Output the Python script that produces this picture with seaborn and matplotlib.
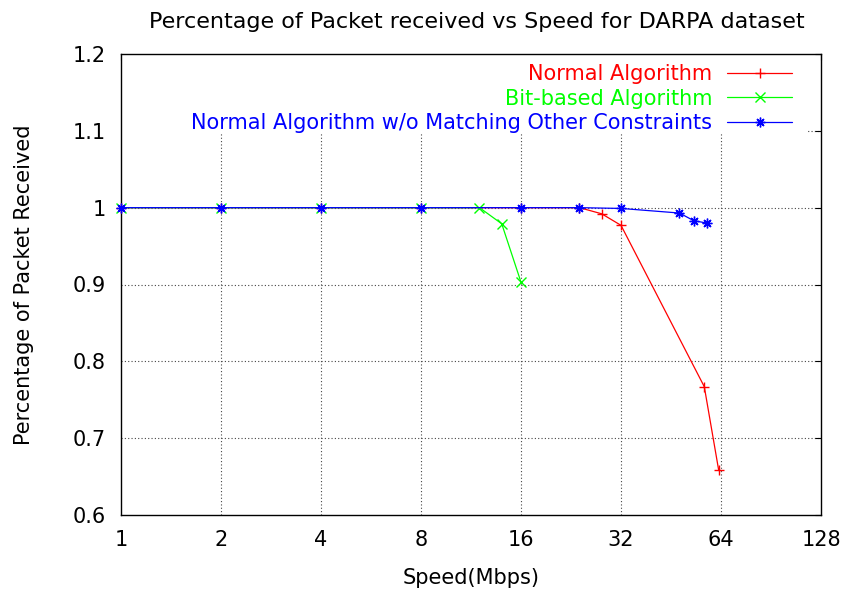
import matplotlib
matplotlib.use("Agg")
import matplotlib.pyplot as plt
from matplotlib.patches import Rectangle
from matplotlib.ticker import FixedLocator, FixedFormatter, NullLocator
import seaborn as sns
import pandas as pd

# ---- data ----
normal_x = [1, 2, 4, 8, 16, 24, 28, 32, 57, 63]
normal_y = [1.0, 1.0, 1.0, 1.0, 1.0, 1.0, 0.992, 0.977, 0.767, 0.658]

bit_x = [1, 2, 4, 8, 12, 14, 16]
bit_y = [1.0, 1.0, 1.0, 1.0, 1.0, 0.979, 0.903]

nomatch_x = [1, 2, 4, 8, 16, 24, 32, 48, 53, 58]
nomatch_y = [1.0, 1.0, 1.0, 1.0, 1.0, 1.0, 0.999, 0.993, 0.983, 0.980]

labels = ["Normal Algorithm", "Bit-based Algorithm",
          "Normal Algorithm w/o Matching Other Constraints"]
x_ticks = [1, 2, 4, 8, 16, 32, 64, 128]
x_tick_labels = ["1", "2", "4", "8", "16", "32", "64", "128"]
y_ticks = [0.6, 0.7, 0.8, 0.9, 1.0, 1.1, 1.2]
y_tick_labels = ["0.6", "0.7", "0.8", "0.9", "1", "1.1", "1.2"]

sns.set_style("white")
plt.rcParams["font.family"] = ["DejaVu Sans"]
plt.rcParams["text.color"] = "black"
plt.rcParams["axes.labelcolor"] = "black"
FS = 15

fig = plt.figure(figsize=(8.47, 5.94), dpi=100)
ax = fig.add_axes([121 / 847, 79 / 594, 700 / 847, 461 / 594])

series = [
    (normal_x, normal_y, "#ff0000", "+"),
    (bit_x, bit_y, "#00ff00", "x"),
    (nomatch_x, nomatch_y, "#0000ff", (8, 2, 0)),
]
for (xs, ys, col, mk), lab in zip(series, labels):
    df = pd.DataFrame({"x": xs, "y": ys})
    sns.lineplot(data=df, x="x", y="y", ax=ax, color=col, marker=mk,
                 markersize=7, markeredgecolor=col, markerfacecolor=col,
                 markeredgewidth=1.0, linewidth=0.9, label=lab, zorder=3,
                 clip_on=False)

ax.set_xscale("log", base=2)
ax.set_xlim(1, 128)
ax.set_ylim(0.6, 1.2)
ax.xaxis.set_major_locator(FixedLocator(x_ticks))
ax.xaxis.set_major_formatter(FixedFormatter(x_tick_labels))
ax.xaxis.set_minor_locator(NullLocator())
ax.yaxis.set_major_locator(FixedLocator(y_ticks))
ax.yaxis.set_major_formatter(FixedFormatter(y_tick_labels))

# grid (dotted), drawn below data
for xv in x_ticks[1:-1]:
    ax.axvline(xv, color="#444444", lw=0.8, ls=(0, (1, 2)), zorder=0.5)
for yv in y_ticks[1:-1]:
    ax.axhline(yv, color="#444444", lw=0.8, ls=(0, (1, 2)), zorder=0.5)
# key area blanks the grid
ax.add_patch(Rectangle((0, 0.826), 0.978, 0.174, transform=ax.transAxes,
                       facecolor="white", edgecolor="none", zorder=0.8))

for s in ax.spines.values():
    s.set_visible(True)
    s.set_color("black")
    s.set_linewidth(1.0)

ax.tick_params(axis="both", which="major", direction="in", length=4.5,
               width=0.8, top=True, right=True, labelsize=FS, pad=11,
               colors="black")

ax.set_title("Percentage of Packet received vs Speed for DARPA dataset",
             fontsize=16, pad=19, color="black", x=0.509)
ax.set_xlabel("Speed(Mbps)", fontsize=FS, labelpad=13, color="black")
ax.set_ylabel("Percentage of Packet Received", fontsize=FS, labelpad=28,
              color="black")

handles, labs = ax.get_legend_handles_labels()
leg = ax.legend(handles, labs, loc="upper right",
                bbox_to_anchor=(0.9586, 0.978), markerfirst=False,
                frameon=False, fontsize=FS, handlelength=3.1,
                handletextpad=0.72, labelspacing=0.22, borderpad=0,
                borderaxespad=0)
for txt, (_, _, col, _) in zip(leg.get_texts(), series):
    txt.set_color(col)

fig.savefig("out.png", dpi=100)
